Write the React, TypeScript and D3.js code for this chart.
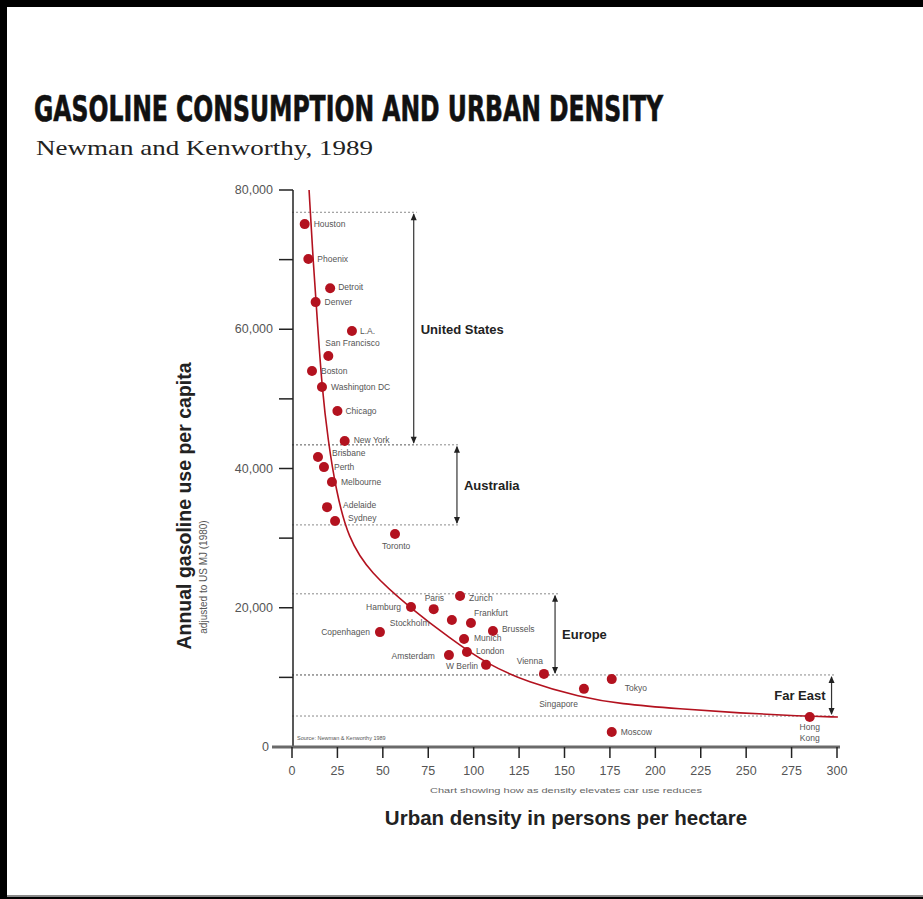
import React from "react";
import * as d3 from "d3";

const W = 923;
const H = 899;

// cities: name, density (persons/ha), gasoline use (MJ per capita)
const cities = ["Houston", "Phoenix", "Detroit", "Denver", "L.A.", "San Francisco", "Boston", "Washington DC", "Chicago", "New York",
  "Brisbane", "Perth", "Melbourne", "Adelaide", "Sydney", "Toronto",
  "Hamburg", "Paris", "Zurich", "Stockholm", "Frankfurt", "Copenhagen", "Brussels", "Munich", "London", "Amsterdam", "W Berlin", "Vienna",
  "Singapore", "Tokyo", "Moscow", "Hong Kong"];
const density = [7, 9, 21, 13, 33, 20, 11, 16.5, 25, 29,
  14.3, 17.6, 22, 19.3, 23.7, 56.7,
  65.5, 78, 92.5, 88, 98.5, 48.4, 110.6, 94.7, 96.3, 86.4, 106.8, 138.7,
  160.7, 176, 176, 285];
const gasoline = [75100, 70100, 65900, 63900, 59750, 56150, 54000, 51700, 48250, 43950,
  41650, 40200, 38050, 34450, 32450, 30600,
  20100, 19800, 21700, 18250, 17800, 16500, 16650, 15500, 13650, 13200, 11800, 10500,
  8350, 9750, 2150, 4300];

// trend curve
const curveDensity = [9.4, 11.6, 14.3, 16.5, 19.8, 24.2, 30.8, 43, 65.5, 87, 107.3, 130, 158.5, 180.6, 213.6, 246.6, 279.6, 300.5];
const curveGasoline = [80000, 69900, 59900, 51700, 44100, 36900, 30000, 25000, 19900, 15600, 11900, 9300, 7180, 6180, 5460, 4880, 4450, 4310];

// regional bands
const regionNames = ["United States", "Australia", "Europe", "Far East"];
const regionTop = [76800, 43400, 22000, 10350];
const regionBottom = [43400, 31900, 10350, 4450];
const regionArrowAt = [67, 90.8, 144.8, 297];

const xTicks = [0, 25, 50, 75, 100, 125, 150, 175, 200, 225, 250, 275, 300];
const yTicks = [0, 10000, 20000, 30000, 40000, 50000, 60000, 70000, 80000];
const yLabels = [0, 20000, 40000, 60000, 80000];

// label placement next to each dot: [dx, dy, anchor]
const labelPlace: Record<string, [number, number, string]> = {
  "Houston": [9, 3, "start"],
  "Phoenix": [9, 3, "start"],
  "Detroit": [8, 2, "start"],
  "Denver": [9, 3, "start"],
  "L.A.": [8, 3, "start"],
  "San Francisco": [-3, -10, "start"],
  "Boston": [9, 3, "start"],
  "Washington DC": [9, 3, "start"],
  "Chicago": [8, 3, "start"],
  "New York": [9, 2, "start"],
  "Brisbane": [14, -1, "start"],
  "Perth": [10, 3, "start"],
  "Melbourne": [9, 3, "start"],
  "Adelaide": [16, 1, "start"],
  "Sydney": [13, 0, "start"],
  "Toronto": [-13, 15, "start"],
  "Hamburg": [-10, 3, "end"],
  "Paris": [-9, -8, "start"],
  "Zurich": [9, 5, "start"],
  "Stockholm": [-62, 6, "start"],
  "Frankfurt": [3, -7, "start"],
  "Copenhagen": [-10, 3, "end"],
  "Brussels": [9, 1, "start"],
  "Munich": [10, 2, "start"],
  "London": [9, 2, "start"],
  "Amsterdam": [-14, 4, "end"],
  "W Berlin": [-8, 4, "end"],
  "Vienna": [-1, -10, "end"],
  "Singapore": [-6, 18, "end"],
  "Tokyo": [13, 12, "start"],
  "Moscow": [9, 3, "start"],
  "Hong Kong": [0, 13, "middle"],
};

export default function App() {
  const x = d3.scaleLinear().domain([0, 300]).range([292, 837]);
  const y = d3.scaleLinear().domain([0, 80000]).range([747, 190]);

  const curvePts: [number, number][] = curveDensity.map((d, i) => [d, curveGasoline[i]]);
  const line = d3
    .line<[number, number]>()
    .x((d) => x(d[0]))
    .y((d) => y(d[1]))
    .curve(d3.curveBasis);

  const dotted = "#8a8a8a";
  const red = "#b3121f";
  const sans = "'Liberation Sans', Arial, sans-serif";

  return (
    <svg width={W} height={H} style={{ position: "absolute", left: 0, top: 0, display: "block" }}>
      <rect x={0} y={0} width={W} height={H} fill="#000" />
      <rect x={7} y={7} width={W - 7} height={888} fill="#fff" />
      <rect x={7} y={895} width={W - 7} height={2} fill="#8a8a8a" />

      {/* titles */}
      <text x={34} y={121} fontFamily="'Liberation Sans Narrow', 'DejaVu Sans Condensed', 'Liberation Sans', sans-serif"
        fontWeight="bold" fontSize={35} textLength={629} lengthAdjust="spacingAndGlyphs" fill="#111" stroke="#111" strokeWidth={0.6}>
        GASOLINE CONSUMPTION AND URBAN DENSITY
      </text>
      <text x={36} y={155} fontFamily="'Liberation Serif', 'Times New Roman', serif" fontSize={21}
        textLength={337} lengthAdjust="spacingAndGlyphs" fill="#222">
        Newman and Kenworthy, 1989
      </text>

      {/* region bands */}
      {regionNames.map((name, i) => {
        const ax = x(regionArrowAt[i]);
        const t = y(regionTop[i]);
        const b = y(regionBottom[i]);
        const mid = (t + b) / 2;
        const farEast = i === 3;
        return (
          <g key={name}>
            <line x1={x(0)} x2={ax + 3} y1={t} y2={t} stroke={dotted} strokeDasharray="2,2" />
            <line x1={x(0)} x2={ax + 3} y1={b} y2={b} stroke={dotted} strokeDasharray="2,2" />
            <line x1={ax} x2={ax} y1={t + 2} y2={b - 2} stroke="#333" strokeWidth={1.2} />
            <path d={`M${ax},${t + 1}l-3,7h6z`} fill="#222" />
            <path d={`M${ax},${b - 1}l-3,-7h6z`} fill="#222" />
            <text x={farEast ? ax - 6 : ax + 7} y={mid + 5} textAnchor={farEast ? "end" : "start"}
              fontFamily={sans} fontWeight="bold" fontSize={13} fill="#222">
              {name}
            </text>
          </g>
        );
      })}

      {/* y axis */}
      <line x1={293} x2={293} y1={y(80000)} y2={y(0)} stroke="#222" strokeWidth={1.5} />
      {yTicks.map((t) => (
        <line key={t} x1={279} x2={293} y1={y(t)} y2={y(t)} stroke="#222" strokeWidth={1.5} />
      ))}
      {yLabels.map((t) => (
        <text key={t} x={t === 0 ? 269 : 273} y={y(t) + 4} textAnchor="end" fontFamily={sans} fontSize={12.5}
          fill="#555">
          {d3.format(",")(t)}
        </text>
      ))}

      {/* x axis */}
      <line x1={272} x2={840} y1={y(0)} y2={y(0)} stroke="#6a6a6a" strokeWidth={3} />
      {xTicks.map((t) => (
        <g key={t}>
          <line x1={x(t)} x2={x(t)} y1={y(0)} y2={y(0) + 11} stroke="#222" strokeWidth={1.5} />
          <text x={x(t)} y={775} textAnchor="middle" fontFamily={sans} fontSize={12.5} fill="#555">
            {t}
          </text>
        </g>
      ))}

      {/* curve */}
      <path d={line(curvePts) || ""} fill="none" stroke={red} strokeWidth={1.6} />

      {/* points */}
      {cities.map((c, i) => {
        const cx = x(density[i]);
        const cy = y(gasoline[i]);
        const [dx, dy, anchor] = labelPlace[c];
        return (
          <g key={c}>
            <circle cx={cx} cy={cy} r={5} fill={red} />
            {c === "Hong Kong" ? (
              <text x={cx + dx} y={cy + dy} textAnchor="middle" fontFamily={sans} fontSize={8.5} fill="#555">
                <tspan x={cx + dx}>Hong</tspan>
                <tspan x={cx + dx} dy={11}>Kong</tspan>
              </text>
            ) : (
              <text x={cx + dx} y={cy + dy} textAnchor={anchor} fontFamily={sans} fontSize={8.5} fill="#555">
                {c}
              </text>
            )}
          </g>
        );
      })}

      <text x={297} y={740} fontFamily={sans} fontSize={5.5} fill="#555">Source: Newman &amp; Kenworthy 1989</text>

      {/* axis titles */}
      <text x={566} y={793} textAnchor="middle" fontFamily={sans} fontSize={7} fill="#666" textLength={272}
        lengthAdjust="spacingAndGlyphs">
        Chart showing how as density elevates car use reduces
      </text>
      <text x={566} y={825} textAnchor="middle" fontFamily={sans} fontWeight="bold" fontSize={20.5} fill="#222">
        Urban density in persons per hectare
      </text>
      <text transform="translate(191,506) rotate(-90)" textAnchor="middle" fontFamily={sans} fontWeight="bold"
        fontSize={19.5} fill="#222">
        Annual gasoline use per capita
      </text>
      <text transform="translate(207,577) rotate(-90)" textAnchor="middle" fontFamily={sans} fontSize={10} fill="#555">
        adjusted to US MJ (1980)
      </text>
    </svg>
  );
}
